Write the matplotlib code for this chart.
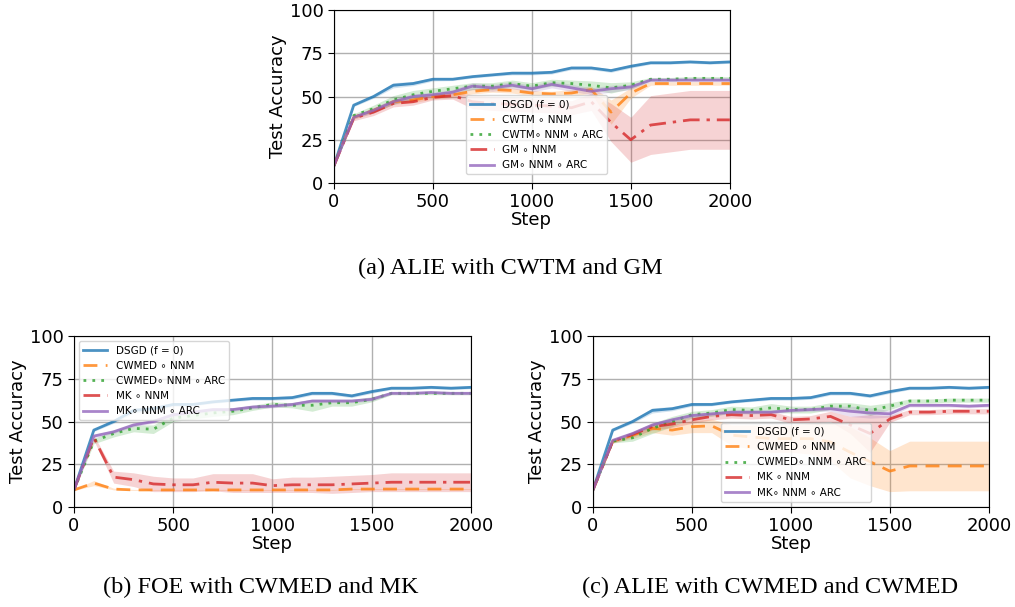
import matplotlib
matplotlib.use("Agg")
import matplotlib.pyplot as plt
import numpy as np

steps = list(range(0, 2001, 100))

dsgd = [10, 45, 50, 56.5, 57.5, 60, 60, 61.5, 62.5, 63.5, 63.5, 64, 66.5, 66.5, 65, 67.5, 69.5, 69.5, 70, 69.5, 70]
dsgd_sd = [0.5, 0.8, 1, 1.5, 1.2, 1, 0.8, 0.8, 0.8, 1, 1, 1, 1, 1, 1, 1, 0.8, 0.8, 0.8, 0.8, 0.8]

# Panel (a)
a_labels = ["DSGD (f = 0)", "CWTM ∘ NNM", "CWTM∘ NNM ∘ ARC", "GM ∘ NNM", "GM∘ NNM ∘ ARC"]
a_cwtm = [10, 38, 42, 47, 48, 50, 51, 53, 54, 53.5, 52, 51.5, 52, 54, 41, 52, 57.5, 57.5, 57.5, 57.5, 57.5]
a_cwtm_sd = [0.5, 1, 1.5, 1.5, 1.5, 1.5, 1.5, 1.5, 1.5, 1.5, 1.5, 1.5, 2, 2, 7, 3, 1, 1, 1, 1, 1]
a_cwtm_arc = [10, 39, 43, 48, 51, 53, 54.5, 56, 56, 57.5, 56, 58, 57.5, 56.5, 55, 56.5, 60, 60, 60.5, 60.5, 60.5]
a_cwtm_arc_sd = [0.5, 1, 2, 2.5, 2.5, 2, 2, 2, 2, 2, 2, 2, 2, 2.5, 3, 2, 1, 1, 1, 1, 1]
a_gm = [10, 37.5, 41, 46, 47, 49.5, 50.5, 47, 46, 45.5, 45, 44.5, 43.5, 47, 35, 25, 33.5, 35, 36.5, 36.5, 36.5]
a_gm_sd = [0.5, 1.5, 2, 2, 2, 1.5, 2, 4, 4, 4, 4, 4, 4, 5, 11, 13, 17, 17, 17, 17, 17]
a_gm_arc = [10, 38, 42, 47, 50, 51, 52.5, 56, 55, 56.5, 54.5, 57, 55, 53, 54.5, 55.5, 59.5, 59.5, 59.5, 59.5, 59.5]
a_gm_arc_sd = [0.5, 1, 1.5, 1.5, 1.5, 1.5, 1.5, 2, 2, 2, 2, 2, 2, 2, 2, 1.5, 1, 1, 1, 1, 1]

# Panel (b)
b_labels = ["DSGD (f = 0)", "CWMED ∘ NNM", "CWMED∘ NNM ∘ ARC", "MK ∘ NNM", "MK∘ NNM ∘ ARC"]
b_cwmed = [10, 14, 10.5, 10, 10, 10, 10, 10, 10, 10, 10, 10, 10, 10, 10.5, 10.5, 10.5, 10.5, 10.5, 10.5, 10.5]
b_cwmed_sd = [0.3, 1.5, 0.5, 0.3, 0.3, 0.3, 0.3, 0.3, 0.3, 0.3, 0.3, 0.3, 0.3, 0.3, 0.3, 0.3, 0.3, 0.3, 0.3, 0.3, 0.3]
b_cwmed_arc = [10, 38.5, 43, 46, 45.5, 52, 53.5, 55, 56, 58, 60, 59.5, 59.5, 61, 61, 63, 66.5, 66.5, 66.5, 66.5, 66.5]
b_cwmed_arc_sd = [0.5, 1.5, 2, 2, 2.5, 2, 2, 2, 2, 1.5, 1.5, 1.5, 3.5, 2, 2, 1.5, 0.8, 0.8, 0.8, 0.8, 0.8]
b_mk = [10, 40.5, 17.5, 16, 13.5, 13, 13, 14.5, 14, 14, 12.5, 13, 13, 13, 13.5, 14, 14.5, 14.5, 14.5, 14.5, 14.5]
b_mk_sd = [0.5, 1.5, 3.5, 4, 4.5, 4, 4, 5, 5.5, 5.5, 4, 4.5, 4.5, 5, 5, 5, 5.5, 5.5, 5.5, 5.5, 5.5]
b_mk_arc = [10, 41.5, 44, 48, 50, 54, 55.5, 57, 57, 58.5, 59, 60, 62, 62, 62, 63, 66.5, 66.5, 67, 66.5, 66.5]
b_mk_arc_sd = [0.5, 1, 1, 1, 1, 1, 1, 1, 1, 1, 1, 1, 1, 1, 1, 1, 0.8, 0.8, 0.8, 0.8, 0.8]

# Panel (c)
c_labels = ["DSGD (f = 0)", "CWMED ∘ NNM", "CWMED∘ NNM ∘ ARC", "MK ∘ NNM", "MK∘ NNM ∘ ARC"]
c_cwmed = [10, 38.5, 42, 46, 45, 47, 47.5, 42, 41, 40, 40, 40, 38, 32, 26.5, 21, 24, 24, 24, 24, 24]
c_cwmed_sd = [0.5, 1, 2, 2.5, 3, 3.5, 4, 6, 7, 8, 8, 9, 11, 15, 14, 12, 14.5, 14.5, 14.5, 14.5, 14.5]
c_cwmed_arc = [10, 38.5, 40.5, 46, 50, 54, 55, 57, 56.5, 58, 57, 57, 59, 59, 56.5, 59, 62, 62, 62.5, 62.5, 62.5]
c_cwmed_arc_sd = [0.5, 1, 2, 3, 3, 2, 2, 2, 2, 2.5, 2, 2, 2, 2, 3, 2, 1.2, 1.2, 1.2, 1.2, 1.2]
c_mk = [10, 38.5, 42.5, 47, 48.5, 51, 53, 54, 53.5, 54, 51, 51.5, 53, 48, 43, 51.5, 55.5, 55.5, 56, 56, 56]
c_mk_sd = [0.5, 1, 1.5, 2, 2, 2, 2, 2, 2, 2, 2, 2, 3, 5, 11, 2, 1.5, 1.5, 1.5, 1.5, 1.5]
c_mk_arc = [10, 39, 43, 48, 51, 53.5, 54.5, 55.5, 55.5, 55.5, 56.5, 57, 57.5, 56, 55, 54.5, 59.5, 59.5, 59.5, 59, 59.5]
c_mk_arc_sd = [0.5, 1, 1, 1, 1, 1, 1, 1, 1, 1, 1, 1, 1.5, 3, 3, 2, 1, 1, 1, 1, 1]

colors = ["#1f77b4", "#ff7f0e", "#2ca02c", "#d62728", "#9467bd"]
styles = ["-", (0, (5, 3)), (0, (1, 2.2)), (0, (6, 2.5, 1.2, 2.5)), "-"]

fig = plt.figure(figsize=(10.15, 6.07), dpi=100)

def panel(rect, series, sds, labels, legend_kw):
    ax = fig.add_axes(rect)
    x = np.array(steps)
    for i, (y, sd) in enumerate(zip(series, sds)):
        y = np.array(y, dtype=float)
        sd = np.array(sd, dtype=float)
        ax.fill_between(x, y - sd, y + sd, color=colors[i], alpha=0.2, linewidth=0)
        ax.plot(x, y, color=colors[i], linestyle=styles[i], linewidth=2,
                alpha=0.8, label=labels[i])
    ax.set_xlim(0, 2000)
    ax.set_ylim(0, 100)
    ax.set_xticks([0, 500, 1000, 1500, 2000])
    ax.set_yticks([0, 25, 50, 75, 100])
    ax.grid(True, color="#b0b0b0", linewidth=1)
    ax.set_axisbelow(True)
    ax.tick_params(labelsize=13, length=4)
    ax.set_xlabel("Step", fontsize=13, labelpad=0)
    ax.set_ylabel("Test Accuracy", fontsize=13, labelpad=2)
    ax.legend(fontsize=7.5, handlelength=2.3, labelspacing=0.5, **legend_kw)
    return ax

panel([0.329, 0.6985, 0.390, 0.285],
      [dsgd, a_cwtm, a_cwtm_arc, a_gm, a_gm_arc],
      [dsgd_sd, a_cwtm_sd, a_cwtm_arc_sd, a_gm_sd, a_gm_arc_sd],
      a_labels, dict(loc="lower left", bbox_to_anchor=(0.32, 0.02)))
panel([0.0729, 0.1647, 0.391, 0.2817],
      [dsgd, b_cwmed, b_cwmed_arc, b_mk, b_mk_arc],
      [dsgd_sd, b_cwmed_sd, b_cwmed_arc_sd, b_mk_sd, b_mk_arc_sd],
      b_labels, dict(loc="upper left"))
panel([0.5842, 0.1647, 0.390, 0.2817],
      [dsgd, c_cwmed, c_cwmed_arc, c_mk, c_mk_arc],
      [dsgd_sd, c_cwmed_sd, c_cwmed_arc_sd, c_mk_sd, c_mk_arc_sd],
      c_labels, dict(loc="lower left", bbox_to_anchor=(0.31, 0.0)))

cap_kw = dict(fontsize=17.5, family="Liberation Serif", ha="center", va="center")
fig.text(0.5025, 0.5585, "(a) ALIE with CWTM and GM", **cap_kw)
fig.text(0.257, 0.033, "(b) FOE with CWMED and MK", **cap_kw)
fig.text(0.759, 0.033, "(c) ALIE with CWMED and CWMED", **cap_kw)

fig.savefig("out.png", dpi=100)
